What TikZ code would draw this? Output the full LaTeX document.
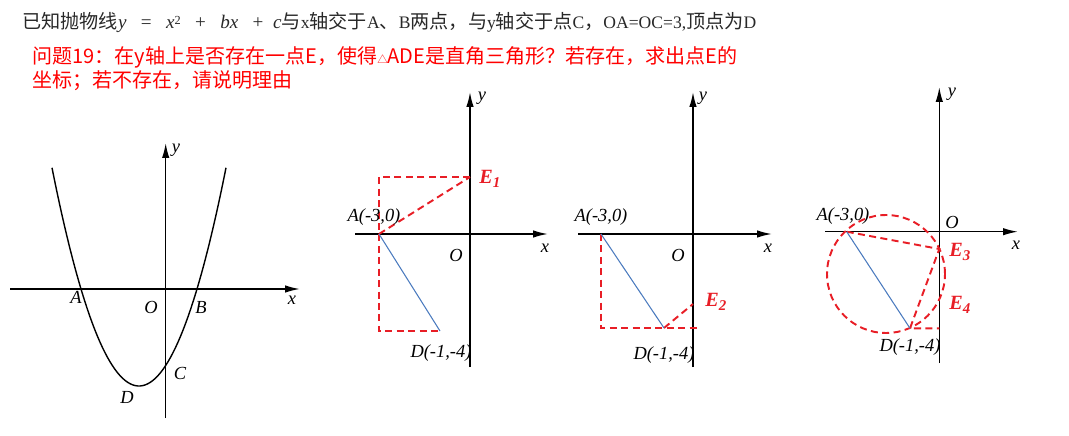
\documentclass[tikz,border=0pt]{standalone}
\usepackage{fontspec}
\setmainfont{Liberation Serif}
\newfontfamily\cjk{Noto Sans CJK SC}
\usetikzlibrary{arrows.meta}

\definecolor{auxred}{RGB}{232,30,38}
\definecolor{segblue}{RGB}{74,122,190}
\definecolor{inkgray}{RGB}{40,40,40}
\newcommand{\Esub}[1]{E\raisebox{-0.45ex}{\fontsize{8.5}{9}\selectfont #1}}
\newcommand{\lat}[1]{{\fontsize{10}{11}\selectfont #1}}

\begin{document}
\begin{tikzpicture}[x=0.02cm,y=-0.02cm,
    axis/.style={line width=0.9pt,-{Latex[length=3mm,width=1.5mm]}},
    curve/.style={line width=0.8pt},
    aux/.style={auxred,line width=1.1pt,dash pattern=on 4pt off 2.5pt},
    seg/.style={segblue,line width=0.6pt},
    lbl/.style={font=\fontsize{10.5}{12}\selectfont\itshape,inner sep=0pt},
    elbl/.style={auxred,font=\fontsize{11.5}{13}\selectfont\bfseries\itshape,inner sep=0pt,anchor=west}]
  \useasboundingbox (0,0) rectangle (1069,436);

  % Problem text
  \node[anchor=base west,inner sep=0pt,inkgray,font=\fontsize{10.9}{13}\selectfont] (given) at (22,29)
    {{\cjk 已知抛物线}{\itshape y}\ \ \ =\ \ \ {\itshape x}\raisebox{0.55ex}{\fontsize{7}{8}\selectfont 2}\ \ \ +\ \ \ {\itshape bx}\ \ \ +\ \ {\itshape c}{\cjk 与}\lat{x}{\cjk 轴交于}\lat{A}{\cjk 、}\lat{B}{\cjk 两点，与}\lat{y}{\cjk 轴交于点}\lat{C}{\cjk ，}\lat{OA=OC=3,}{\cjk 顶点为}\lat{D}};
  \node[anchor=base west,inner sep=0pt,red,font=\cjk\fontsize{11.4}{13}\selectfont] (question) at (32,63.5)
    {问题19：在y轴上是否存在一点E，使得{\fontsize{6}{7}\selectfont △}ADE是直角三角形？若存在，求出点E的};
  \node[anchor=base west,inner sep=0pt,red,font=\cjk\fontsize{11.4}{13}\selectfont] (question2) at (32,87)
    {坐标；若不存在，请说明理由};

  % Panel 1: parabola
  \coordinate (X1a) at (10,289);
  \coordinate (X1b) at (300,289);
  \coordinate (Y1a) at (165.7,418);
  \coordinate (Y1b) at (165.7,143);
  \draw[axis] (X1a) -- (X1b);
  \draw[axis] (Y1a) -- (Y1b);
  \draw[curve] plot[domain=52:226,samples=70] (\x,{386-97*((\x-139)/58)^2});
  \node[lbl] (lA1) at (76,297) {A};
  \node[lbl] (lO1) at (151,307) {O};
  \node[lbl] (lB1) at (201,307) {B};
  \node[lbl] (lC1) at (180,373) {C};
  \node[lbl] (lD1) at (127,397) {D};
  \node[lbl] (lx1) at (292,300) {x};
  \node[lbl] (ly1) at (176,150) {y};

  % Panel 2: right angle at A
  \coordinate (X2a) at (355,234);
  \coordinate (X2b) at (548,234);
  \coordinate (Y2a) at (470,367);
  \coordinate (Y2b) at (470,92);
  \coordinate (A2) at (379,234);
  \coordinate (D2) at (440,331);
  \coordinate (E1) at (470,177);
  \coordinate (P2a) at (379,177);
  \coordinate (P2b) at (379,331);
  \draw[axis] (X2a) -- (X2b);
  \draw[axis] (Y2a) -- (Y2b);
  \draw[aux] (E1) -- (P2a) -- (P2b) -- (D2);
  \draw[aux] (A2) -- (E1);
  \draw[seg] (A2) -- (D2);
  \node[lbl] (lA2) at (374,217) {A(-3,0)};
  \node[lbl] (lO2) at (456,255) {O};
  \node[lbl] (lx2) at (545,248) {x};
  \node[lbl] (ly2) at (482,98) {y};
  \node[lbl] (lD2) at (441,353) {D(-1,-4)};
  \node[elbl] (lE1) at (479,179) {\Esub{1}};

  % Panel 3: right angle at D
  \coordinate (X3a) at (578,234);
  \coordinate (X3b) at (772,234);
  \coordinate (Y3a) at (693,367);
  \coordinate (Y3b) at (693,92);
  \coordinate (A3) at (601,234);
  \coordinate (D3) at (664,328);
  \coordinate (E2) at (693,304);
  \coordinate (P3a) at (601,328);
  \coordinate (P3b) at (697,328);
  \draw[axis] (X3a) -- (X3b);
  \draw[axis] (Y3a) -- (Y3b);
  \draw[aux] (A3) -- (P3a) -- (P3b);
  \draw[aux] (D3) -- (E2);
  \draw[seg] (A3) -- (D3);
  \node[lbl] (lA3) at (601,217) {A(-3,0)};
  \node[lbl] (lO3) at (678,255) {O};
  \node[lbl] (lx3) at (768,248) {x};
  \node[lbl] (ly3) at (703,98) {y};
  \node[lbl] (lD3) at (664,355) {D(-1,-4)};
  \node[elbl] (lE2) at (705,302) {\Esub{2}};

  % Panel 4: right angle at E (circle on AD)
  \coordinate (X4a) at (825,231.7);
  \coordinate (X4b) at (1018,231.7);
  \coordinate (Y4a) at (939.3,363);
  \coordinate (Y4b) at (939.3,87);
  \coordinate (A4) at (846.7,231.7);
  \coordinate (D4) at (910,328.3);
  \coordinate (E3) at (939.3,249);
  \coordinate (E4) at (939.3,299);
  \coordinate (K4) at (886,274);
  \coordinate (P4) at (939.3,328.3);
  \draw[axis] (X4a) -- (X4b);
  \draw[axis] (Y4a) -- (Y4b);
  \draw[aux] (K4) circle[radius=1.18cm];
  \draw[aux] (A4) -- (E3) -- (D4) -- (P4);
  \draw[seg] (A4) -- (D4);
  \node[lbl] (lA4) at (843,216) {A(-3,0)};
  \node[lbl] (lO4) at (952,222) {O};
  \node[lbl] (lx4) at (1016,245) {x};
  \node[lbl] (ly4) at (952,94) {y};
  \node[lbl] (lD4) at (910,347) {D(-1,-4)};
  \node[elbl] (lE3) at (949,252) {\Esub{3}};
  \node[elbl] (lE4) at (949,305) {\Esub{4}};
\end{tikzpicture}
\end{document}
